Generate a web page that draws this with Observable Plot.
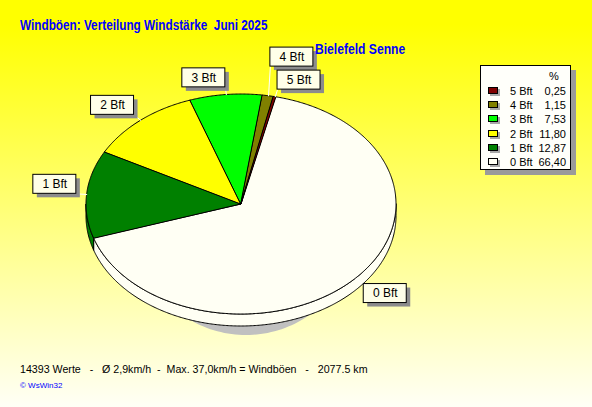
<!DOCTYPE html>
<html><head><meta charset="utf-8">
<script src="https://cdn.jsdelivr.net/npm/d3@7"></script>
<script src="https://cdn.jsdelivr.net/npm/@observablehq/plot@0.6"></script>
<style>
html,body{margin:0;padding:0;background:#fff;}
body{width:592px;height:407px;overflow:hidden;}
#wrap{position:relative;width:592px;height:407px;overflow:hidden;
  background:linear-gradient(to bottom,#ffff00 0%,#ffff00 6%,#fffff6 100%);
  font-family:"Liberation Sans",Arial,sans-serif;}
#chart{position:absolute;left:0;top:0;}
.t{position:absolute;white-space:pre;line-height:1;}
#title{left:20px;top:18px;font-size:14px;font-weight:bold;color:#0000ff;transform:scaleX(0.84);transform-origin:0 0;}
#sub{left:315px;top:42px;font-size:14px;font-weight:bold;color:#0000ff;transform:scaleX(0.865);transform-origin:0 0;}
#foot{left:20px;top:364px;font-size:11px;color:#000;transform:scaleX(0.968);transform-origin:0 0;}
#copy{left:20px;top:382px;font-size:8px;color:#0000ff;}
#legend{position:absolute;left:480px;top:65px;width:91px;height:105px;box-sizing:border-box;
  background:#fffffa;border:1px solid #000;box-shadow:5px 5px 0 #9a9a9a;font-size:11px;}
#legend .hdr{position:absolute;left:68px;top:4px;line-height:12px;}
#legend .row{position:absolute;left:0;width:89px;height:14px;line-height:14px;}
#legend .sw{position:absolute;left:7px;top:3px;width:10px;height:7px;box-sizing:border-box;border:1px solid #000;box-shadow:2px 2px 0 #a8a8a8;}
#legend .lb{position:absolute;left:29px;top:0;}
#legend .vl{position:absolute;right:4px;top:0;}
</style></head><body>
<div id="wrap">
  <div id="chart"></div>
  <div class="t" id="title"></div>
  <div class="t" id="sub"></div>
  <div id="legend"></div>
  <div class="t" id="foot"></div>
  <div class="t" id="copy"></div>
</div>
<script>
// ---- data ----
const categories = ["0 Bft", "1 Bft", "2 Bft", "3 Bft", "4 Bft", "5 Bft"];
const percents = [66.40, 12.87, 11.80, 7.53, 1.15, 0.25];
const colors = ["#fffff4", "#008000", "#ffff00", "#00ff00", "#808000", "#800000"];
const titleText = "Windböen: Verteilung Windstärke  Juni 2025";
const subtitleText = "Bielefeld Senne";
const footerText = "14393 Werte   -   Ø 2,9km/h  -  Max. 37,0km/h = Windböen   -   2077.5 km";
const copyText = "© WsWin32";
const legendHeader = "%";

document.getElementById("title").textContent = titleText;
document.getElementById("sub").textContent = subtitleText;
document.getElementById("foot").textContent = footerText;
document.getElementById("copy").textContent = copyText;

// ---- layout ----
const X_RANGE = [86, 396], Y_RANGE = [94, 314];
const kx = (X_RANGE[1] - X_RANGE[0]) / 2, ky = (Y_RANGE[1] - Y_RANGE[0]) / 2;
const startDeg = 13;
const depth = 12 / ky;
const rad = d => d * Math.PI / 180;
const arcPts = (a0, a1, step = 0.5) => {
  const n = Math.max(2, Math.ceil((a1 - a0) / step) + 1);
  return d3.range(n).map(j => a0 + (a1 - a0) * j / (n - 1));
};

const total = d3.sum(percents);
let acc = startDeg;
const slices = categories.map((c, i) => {
  const a0 = acc, a1 = acc + percents[i] / total * 360;
  acc = a1;
  return {key: c, a0, a1, mid: (a0 + a1) / 2, color: colors[i]};
});

const topData = slices.flatMap(s => arcPts(s.a0, s.a1).map(a => ({
  key: s.key, color: s.color, cx: 0, cy: 0, x: Math.sin(rad(a)), y: -Math.cos(rad(a))
})));

const sideData = slices.flatMap(s => {
  const lo = Math.max(s.a0, 90), hi = Math.min(s.a1, 270);
  if (hi <= lo) return [];
  return arcPts(lo, hi).map(a => ({
    key: s.key, color: s.color, x: Math.sin(rad(a)), y: -Math.cos(rad(a)), y2: -Math.cos(rad(a)) + depth
  }));
});

// soft shadow under the pie
const shC = [5 / kx, 34 / ky], shR = [104 / kx, 97 / ky];
const shadowData = arcPts(0, 360, 2).map(a => ({
  cx: shC[0], cy: shC[1], x: shC[0] + shR[0] * Math.sin(rad(a)), y: shC[1] - shR[1] * Math.cos(rad(a))
}));

// label boxes
const bw = 43 / kx, bh = 19 / ky, gap = 3 / ky, anchorR = 1.07;
const placed = [];
[...slices].reverse().forEach(s => {
  const sn = Math.sin(rad(s.mid)), cs = Math.cos(rad(s.mid));
  const ax = anchorR * sn;
  let ay = -anchorR * cs;
  const up = cs >= 0;
  const box = () => {
    const x1 = sn >= 0 ? ax : ax - bw, x2 = x1 + bw;
    const y1 = up ? ay - bh : ay, y2 = y1 + bh;
    return {x1, x2, y1, y2};
  };
  let b = box();
  let guard = 0;
  while (placed.some(p => b.x1 < p.b.x2 && b.x2 > p.b.x1 && b.y1 < p.b.y2 && b.y2 > p.b.y1) && guard++ < 10) {
    ay += up ? -(bh + gap) : (bh + gap);
    b = box();
  }
  placed.push({key: s.key, b, ex: sn, ey: -cs, ax, ay});
});
const labels = placed.map(p => ({
  key: p.key, ex: p.ex, ey: p.ey, ax: p.ax, ay: p.ay,
  bx1: p.b.x1, bx2: p.b.x2, by1: p.b.y1, by2: p.b.y2,
  tx: (p.b.x1 + p.b.x2) / 2, ty: (p.b.y1 + p.b.y2) / 2
}));

const chart = Plot.plot({
  width: 592, height: 407, margin: 0,
  x: {domain: [-1, 1], range: X_RANGE, axis: null},
  y: {domain: [-1, 1], range: Y_RANGE, axis: null},
  color: {type: "identity"},
  style: {background: "transparent", fontFamily: "Liberation Sans, Arial, sans-serif", overflow: "visible"},
  marks: [
    Plot.area(shadowData, {x1: "cx", y1: "cy", x2: "x", y2: "y", fill: "#c0c0c0"}),
    Plot.area(sideData, {x1: "x", y1: "y", x2: "x", y2: "y2", z: "key", fill: "color", stroke: "#000", strokeWidth: 1}),
    Plot.area(topData, {x1: "cx", y1: "cy", x2: "x", y2: "y", z: "key", fill: "color", stroke: "#000", strokeWidth: 1}),
    Plot.link(labels, {x1: "ex", y1: "ey", x2: "ax", y2: "ay", stroke: "#ffffff", strokeWidth: 1}),
    Plot.rect(labels, {x1: "bx1", x2: "bx2", y1: "by1", y2: "by2", fill: "#8c8c8c", dx: 4, dy: 4}),
    Plot.rect(labels, {x1: "bx1", x2: "bx2", y1: "by1", y2: "by2", fill: "#ffffe8", stroke: "#000", strokeWidth: 1}),
    Plot.text(labels, {x: "tx", y: "ty", text: "key", fontSize: 12, fill: "#000"})
  ]
});
document.getElementById("chart").appendChild(chart);

// legend
const lg = document.getElementById("legend");
const hdr = document.createElement("div");
hdr.className = "hdr"; hdr.textContent = legendHeader; lg.appendChild(hdr);
const order = d3.range(categories.length).reverse();
order.forEach((i, r) => {
  const row = document.createElement("div");
  row.className = "row";
  row.style.top = (18 + r * 14.2) + "px";
  const sw = document.createElement("div"); sw.className = "sw"; sw.style.background = colors[i];
  const lb = document.createElement("div"); lb.className = "lb"; lb.textContent = categories[i];
  const vl = document.createElement("div"); vl.className = "vl"; vl.textContent = percents[i].toFixed(2).replace(".", ",");
  row.append(sw, lb, vl);
  lg.appendChild(row);
});
</script>
</body></html>
